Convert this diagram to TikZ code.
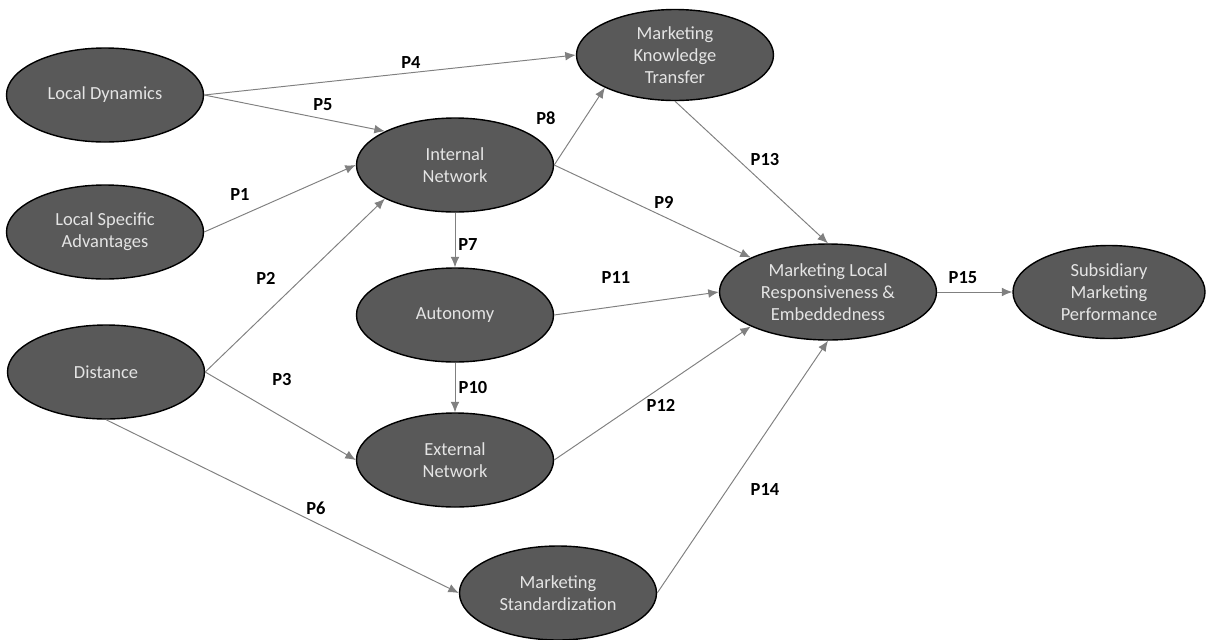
\documentclass[tikz,border=0pt]{standalone}
\usepackage{fontspec}
\setmainfont{Carlito}
\usetikzlibrary{shapes.geometric,arrows.meta}
\definecolor{nodegray}{RGB}{89,89,89}
\definecolor{textgray}{RGB}{228,228,228}
\definecolor{linegray}{RGB}{128,128,128}

\begin{document}
\begin{tikzpicture}[auto]

%
% Styles
%
\tikzstyle{construct} = [ellipse,draw=black,fill=nodegray,line width=0.8pt,
  text=textgray,align=center,inner sep=0pt,minimum width=3.94cm,minimum height=1.88cm,
  font=\fontsize{10.5}{12.6}\selectfont]
\tikzstyle{path} = [draw=linegray,line width=0.55pt,-{Latex[length=6pt,width=5pt]}]
\tikzstyle{plabel} = [font=\fontsize{10.5}{12.6}\selectfont\bfseries,text=black]

\useasboundingbox (0,0) rectangle (24.12,-12.78);

\node[construct] (ld)  at (2.10,-1.90)  {Local Dynamics};
\node[construct] (lsa) at (2.10,-4.64)  {Local Specific\\Advantages};
\node[construct] (dist) at (2.12,-7.44) {Distance};
\node[construct] (in)  at (9.10,-3.30)  {Internal\\Network};
\node[construct,minimum height=1.82cm] (mkt) at (13.50,-1.10) {Marketing\\Knowledge\\Transfer};
\node[construct] (aut) at (9.10,-6.30)  {Autonomy};
\node[construct] (en)  at (9.10,-9.20)  {External\\Network};
\node[construct] (ms)  at (11.16,-11.86) {Marketing\\Standardization};
\node[construct,minimum width=4.34cm,minimum height=1.92cm] (mlr) at (16.56,-5.84)
  {Marketing Local\\Responsiveness \&\\Embeddedness};
\node[construct,minimum width=3.84cm,minimum height=1.86cm] (smp) at (22.18,-5.84)
  {Subsidiary\\Marketing\\Performance};

\draw[path] (ld.east)   -- (mkt.west);
\draw[path] (ld.east)   -- (in.north west);
\draw[path] (lsa.east)  -- (in.west);
\draw[path] (dist.east) -- (in.south west);
\draw[path] (dist.east) -- (en.west);
\draw[path] (dist.south) -- (ms.west);
\draw[path] (in.east)   -- (mkt.south west);
\draw[path] (in.east)   -- (mlr.north west);
\draw[path] (in.south)  -- (aut.north);
\draw[path] (aut.south) -- (en.north);
\draw[path] (aut.east)  -- (mlr.west);
\draw[path] (en.east)   -- (mlr.south west);
\draw[path] (mkt.south) -- (mlr.north);
\draw[path] (ms.east)   -- (mlr.south);
\draw[path] (mlr.east)  -- (smp.west);

\node[plabel] (p1)  at (4.80,-3.90)  {P1};
\node[plabel] (p2)  at (5.32,-5.56)  {P2};
\node[plabel] (p3)  at (5.64,-7.60)  {P3};
\node[plabel] (p4)  at (8.22,-1.26)  {P4};
\node[plabel] (p5)  at (6.46,-2.10)  {P5};
\node[plabel] (p6)  at (6.32,-10.16) {P6};
\node[plabel] (p7)  at (9.36,-4.90)  {P7};
\node[plabel] (p8)  at (10.92,-2.36) {P8};
\node[plabel] (p9)  at (13.28,-4.04) {P9};
\node[plabel] (p10) at (9.46,-7.76)  {P10};
\node[plabel] (p11) at (12.32,-5.56) {P11};
\node[plabel] (p12) at (13.22,-8.10) {P12};
\node[plabel] (p13) at (15.30,-3.20) {P13};
\node[plabel] (p14) at (15.30,-9.80) {P14};
\node[plabel] (p15) at (19.26,-5.56) {P15};

\end{tikzpicture}
\end{document}
